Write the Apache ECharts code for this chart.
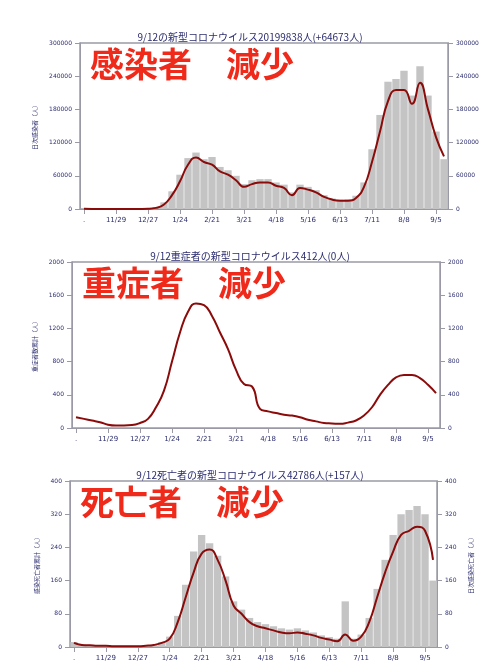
<!DOCTYPE html>
<html><head><meta charset="utf-8">
<script src="https://cdn.jsdelivr.net/npm/echarts@6/dist/echarts.min.js"></script>
<style>html,body{margin:0;padding:0;background:#fff}#c{width:500px;height:667px}</style>
</head><body><div id="c"></div>
<script>
const dates = ['.','11/8','11/15','11/22','11/29','12/6','12/13','12/20','12/27','1/3','1/10','1/17','1/24','1/31','2/7','2/14','2/21','2/28','3/7','3/14','3/21','3/28','4/4','4/11','4/18','4/25','5/2','5/9','5/16','5/23','5/30','6/6','6/13','6/20','6/27','7/4','7/11','7/18','7/25','8/1','8/8','8/15','8/22','8/29','9/5','9/12'];
const casesBar = [400,250,200,150,160,170,200,280,600,3500,12000,32000,62000,92000,102000,90000,94000,76000,70000,60000,45000,52000,54000,54000,48000,44000,30000,44000,40000,34000,25000,19000,17000,17500,24000,48000,108000,170000,230000,235000,250000,205000,258000,205000,140000,90000];
const casesLine = [300,200,150,100,120,130,150,200,400,2000,8000,25000,50000,80000,93000,85000,80000,68000,62000,52000,40000,45000,48000,48000,42000,38000,25000,38000,35000,30000,22000,17000,15000,15000,20000,40000,85000,140000,195000,215000,215000,190000,228000,180000,130000,95000];
const severeLine = [130,110,90,70,40,30,30,35,60,110,250,450,800,1150,1400,1500,1480,1350,1150,950,700,530,500,230,200,180,160,150,130,100,80,60,55,50,65,90,150,250,400,520,610,640,640,600,520,420];
const deathsBar = [12,6,5,4,4,3,3,3,3,4,6,12,25,75,150,230,270,250,220,170,110,90,70,60,55,50,45,42,45,40,35,28,24,20,110,20,30,70,140,210,270,320,330,340,320,160];
const deathsLine = [10,5,4,3,3,2,2,2,2,3,5,10,20,60,120,180,225,235,210,160,100,80,60,50,45,40,35,33,35,32,28,22,18,14,30,15,25,60,120,180,230,270,280,290,280,210];

const navy = '#2b2d6e';
const grids = [
  {left:80,right:52,top:43,height:166},
  {left:72,right:60,top:262,height:166},
  {left:70,right:63,top:481,height:166}
];
const maxes = [300000,2000,400];
const ints = [60000,400,80];
const leftNames = ['日次感染者（人）','重症者数累計（人）','感染死亡者累計（人）'];
const rightNames = ['','','日次感染死亡者（人）'];
const titles = ['9/12の新型コロナウイルス20199838人(+64673人)','9/12重症者の新型コロナウイルス412人(0人)','9/12死亡者の新型コロナウイルス42786人(+157人)'];
const bigs = ['感染者　減少','重症者　減少','死亡者　減少'];

const xAxis=[], yAxis=[], series=[], title=[], graphic=[];
grids.forEach((g,i)=>{
  g.show=true; g.borderColor='#9a9aa6'; g.borderWidth=1.5;
  xAxis.push({type:'category',gridIndex:i,data:dates,boundaryGap:true,
    axisLine:{lineStyle:{color:'#9a9aa6'}},axisTick:{show:true,interval:3,alignWithLabel:true,lineStyle:{color:'#9a9aa6'}},
    axisLabel:{interval:3,fontSize:7,color:navy,fontFamily:'DejaVu Sans'}});
  const base={type:'value',gridIndex:i,min:0,max:maxes[i],interval:ints[i],splitLine:{show:false},
    axisLine:{show:true,lineStyle:{color:'#9a9aa6'}},axisTick:{show:true,lineStyle:{color:'#9a9aa6'}},
    axisLabel:{fontSize:6,color:navy,fontFamily:'DejaVu Sans',formatter:v=>String(v)},
    nameLocation:'middle',nameRotate:90,nameTextStyle:{fontSize:6,color:navy,fontFamily:'Noto Sans CJK JP'}};
  yAxis.push(Object.assign({},base,{position:'left',name:leftNames[i],nameGap:i==0?26:20}));
  yAxis.push(Object.assign({},base,{position:'right',name:rightNames[i],nameGap:18}));
  title.push({text:titles[i],left:'center',top:g.top-16,textStyle:{fontSize:10,fontWeight:'normal',color:navy,fontFamily:'Noto Sans CJK JP'}});
  graphic.push({type:'text',left:g.left+10,top:g.top+4,style:{text:bigs[i],fontSize:34,fontWeight:'bold',fill:'#f02a1a',fontFamily:'Noto Sans CJK JP'}});
});
series.push({type:'bar',xAxisIndex:0,yAxisIndex:0,data:casesBar,barCategoryGap:'8%',itemStyle:{color:'#c4c4c4'},silent:true});
series.push({type:'line',xAxisIndex:0,yAxisIndex:0,data:casesLine,smooth:true,symbol:'none',lineStyle:{color:'#8b0a0a',width:2}});
series.push({type:'line',xAxisIndex:1,yAxisIndex:2,data:severeLine,smooth:true,symbol:'none',lineStyle:{color:'#8b0a0a',width:2}});
series.push({type:'bar',xAxisIndex:2,yAxisIndex:4,data:deathsBar,barCategoryGap:'8%',itemStyle:{color:'#c4c4c4'},silent:true});
series.push({type:'line',xAxisIndex:2,yAxisIndex:4,data:deathsLine,smooth:true,symbol:'none',lineStyle:{color:'#8b0a0a',width:2}});

const chart = echarts.init(document.getElementById('c'));
chart.setOption({animation:false,backgroundColor:'#fff',title,grid:grids,xAxis,yAxis,series,graphic});
</script></body></html>
